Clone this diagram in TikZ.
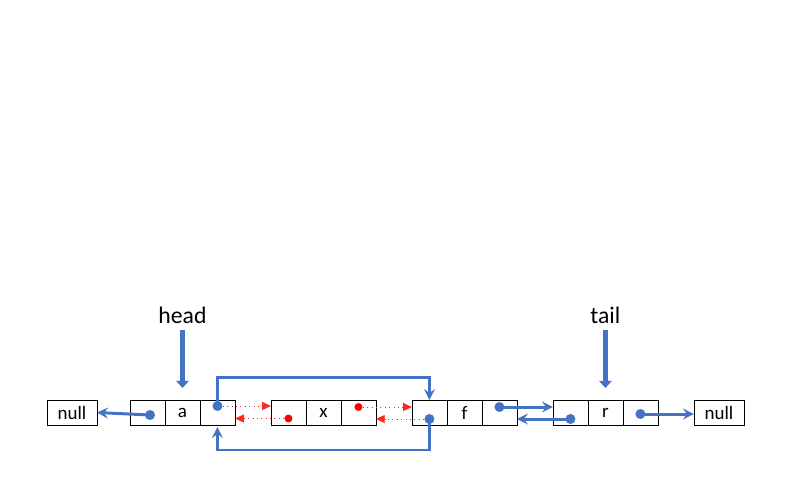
\documentclass[tikz,border=0pt]{standalone}
\usepackage{fontspec}
\setmainfont{Carlito}
\usetikzlibrary{positioning, arrows.meta}
\definecolor{linkblue}{HTML}{4472C4}
\definecolor{linkred}{HTML}{FF0000}

\begin{document}
\begin{tikzpicture}[
    x=0.02cm, y=-0.02cm,
    node distance=0.72cm,
    cell/.style={rectangle, draw, outer sep=0pt, inner sep=0pt, minimum width=0.7cm, minimum height=0.5cm, font=\fontsize{10.8}{12}\selectfont},
    nullbox/.style={cell, minimum width=1cm},
    pointer/.style={font=\fontsize{13.5}{16}\selectfont},
    arrow/.style={->, >=stealth, linkblue, line width=1.7pt},
    ptrarrow/.style={-{Triangle[length=4pt, width=7pt]}, linkblue, line width=2.7pt},
    oldarrow/.style={-{Triangle[length=5pt, width=4.5pt]}, linkred!85, dotted, line width=0.5pt},
    bdot/.style={circle, fill=linkblue, inner sep=0pt, minimum size=0.2cm},
    rdot/.style={circle, fill=linkred, inner sep=0pt, minimum size=0.16cm}
]
    \useasboundingbox (0,0) rectangle (800,490);

    % Node a
    \node[cell] (a1) at (147.5,412.5) {};
    \node[cell, right=0pt of a1] (a2) {a};
    \node[cell, right=0pt of a2] (a3) {};
    \node[nullbox, left=0.66cm of a1] (null1) {null};

    % Node x
    \node[cell, right=of a3] (x1) {};
    \node[cell, right=0pt of x1] (x2) {x};
    \node[cell, right=0pt of x2] (x3) {};

    % Node f
    \node[cell, right=of x3] (f1) {};
    \node[cell, right=0pt of f1] (f2) {f};
    \node[cell, right=0pt of f2] (f3) {};

    % Node r
    \node[cell, right=of f3] (r1) {};
    \node[cell, right=0pt of r1] (r2) {r};
    \node[cell, right=0pt of r2] (r3) {};
    \node[nullbox, right=of r3] (null2) {null};

    % Pointers
    \node[pointer, above=1.4cm of a2] (head) {head};
    \node[pointer, above=1.4cm of r2] (tail) {tail};

    % Dots
    \node[bdot] (a1dot) at ([xshift=0.05cm, yshift=-0.05cm]a1.center) {};
    \node[bdot] (a3dot) at ([yshift=0.13cm]a3.center) {};
    \node[rdot] (x1dot) at ([yshift=-0.12cm]x1.center) {};
    \node[rdot] (x3dot) at ([yshift=0.11cm]x3.center) {};
    \node[bdot] (f1dot) at ([yshift=-0.13cm]f1.center) {};
    \node[bdot] (f3dot) at ([yshift=0.11cm]f3.center) {};
    \node[bdot] (r1dot) at ([yshift=-0.13cm]r1.center) {};
    \node[bdot] (r3dot) at ([yshift=-0.03cm]r3.center) {};

    % Old links to x
    \draw[oldarrow] (a3dot.east) -- (a3dot -| x1.west);
    \draw[oldarrow] (x1dot.west) -- (x1dot -| a3.east);
    \draw[oldarrow] (x3dot.east) -- (x3dot -| f1.west);
    \draw[oldarrow] (f1dot.west) -- (f1dot -| x3.east);

    % New links
    \draw[arrow] (a1dot.center) -- (null1.east);
    \draw[arrow] (a3dot.center) |- ([yshift=0.46cm]f1.north) -- (f1.north);
    \draw[arrow] (f1dot.center) |- ([yshift=-0.5cm]a3.south) -- ([yshift=-0.04cm]a3.south);
    \draw[arrow] (f3dot.center) -- (f3dot -| r1.west);
    \draw[arrow] (r1dot.center) -- (r1dot -| f3.east);
    \draw[arrow] (r3dot.center) -- (r3dot -| null2.west);

    % Head and tail arrows
    \draw[ptrarrow, shorten >=0.24cm] (head) -- (a2);
    \draw[ptrarrow, shorten >=0.24cm] (tail) -- (r2);

\end{tikzpicture}
\end{document}
